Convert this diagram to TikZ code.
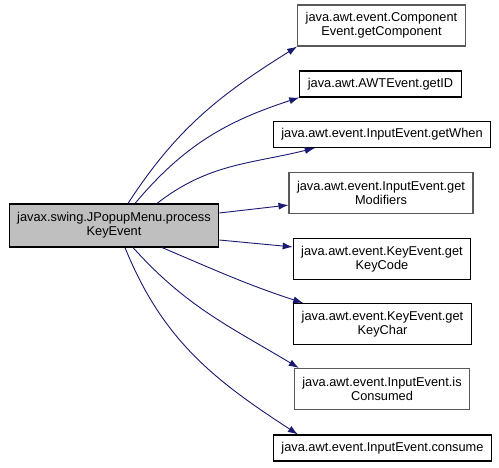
\documentclass[tikz,border=0pt]{standalone}
\usepackage{fontspec}
\setmainfont{Liberation Sans}
\usepackage{xcolor}
\usetikzlibrary{arrows.meta,positioning}
\definecolor{callblue}{HTML}{191970}
\definecolor{curgray}{HTML}{BFBFBF}

\begin{document}
\begin{tikzpicture}[
  x=1pt, y=1pt,
  fn/.style={rectangle, draw=black, line width=1.1pt, align=center, inner xsep=8pt, inner ysep=2pt,
    font=\fontsize{12.8pt}{14pt}\selectfont},
  fnone/.style={fn, minimum height=26pt},
  fntwo/.style={fn, minimum height=41pt},
  grey/.style={draw=black!65},
  cur/.style={fntwo, fill=curgray, minimum height=43pt},
  call/.style={-{Latex[length=10pt,width=7pt]}, draw=callblue, line width=0.9pt}
]
\useasboundingbox (0,0) rectangle (499,467);

\node[cur] (main) at (114,241.5) {javax.swing.JPopupMenu.process\\KeyEvent};

\node[fntwo, grey] (comp) at (381.5,441.5) {java.awt.event.Component\\Event.getComponent};
\node[fnone] (getid) at (380.5,383) {java.awt.AWTEvent.getID};
\node[fnone] (when) at (382,332.5) {java.awt.event.InputEvent.getWhen};
\node[fntwo, grey] (mods) at (381,274) {java.awt.event.InputEvent.get\\Modifiers};
\node[fntwo] (code) at (382,208) {java.awt.event.KeyEvent.get\\KeyCode};
\node[fntwo] (kchar) at (382.5,143) {java.awt.event.KeyEvent.get\\KeyChar};
\node[fntwo, grey] (iscons) at (382,78) {java.awt.event.InputEvent.is\\Consumed};
\node[fnone] (consume) at (382.5,19) {java.awt.event.InputEvent.consume};

% calls
\draw[call] ([xshift=14pt]main.north) to[out=57, in=212] (comp.south west);
\draw[call] ([xshift=21pt]main.north) to[out=50, in=198] (getid.south west);
\draw[call] ([xshift=43pt]main.north) to[out=38, in=194] ([xshift=42pt]when.south west);
\draw[call] ([yshift=12.5pt]main.east) -- ([yshift=9pt]mods.south west);
\draw[call] ([yshift=-14.5pt]main.east) -- ([yshift=-9pt]code.north west);
\draw[call] ([xshift=48pt]main.south) to[out=-23, in=162] ([xshift=10pt]kchar.north west);
\draw[call] ([xshift=19pt]main.south) to[out=-48, in=149] ([xshift=5pt]iscons.north west);
\draw[call] ([xshift=11pt]main.south) to[out=-68, in=147] ([xshift=25pt]consume.north west);
\end{tikzpicture}
\end{document}
